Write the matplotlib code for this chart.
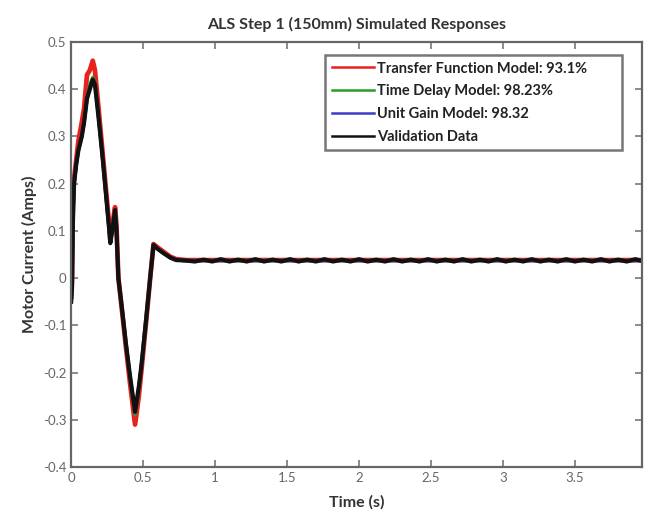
import matplotlib
matplotlib.use("Agg")
import matplotlib.pyplot as plt
import numpy as np

# Transient part of the response
t_tr = [0.0, 0.006, 0.012, 0.02, 0.035, 0.05, 0.074, 0.09, 0.11, 0.13, 0.15, 0.165,
        0.19, 0.22, 0.25, 0.265, 0.272, 0.28, 0.295, 0.305, 0.315, 0.328, 0.35, 0.38,
        0.41, 0.444, 0.47, 0.49, 0.52, 0.549, 0.572, 0.6, 0.64, 0.69, 0.73, 0.8]

val_data = [-0.05, -0.02, 0.12, 0.2, 0.24, 0.27, 0.30, 0.33, 0.38, 0.40, 0.42, 0.41,
            0.34, 0.25, 0.15, 0.10, 0.074, 0.09, 0.12, 0.144, 0.10, 0.0, -0.057, -0.138,
            -0.21, -0.283, -0.23, -0.18, -0.09, 0.0, 0.07, 0.062, 0.053, 0.043, 0.038, 0.037]

tf_model = [-0.04, 0.0, 0.16, 0.21, 0.25, 0.29, 0.33, 0.36, 0.43, 0.44, 0.46, 0.44,
            0.36, 0.26, 0.16, 0.11, 0.08, 0.10, 0.13, 0.15, 0.11, 0.0, -0.06, -0.145,
            -0.225, -0.31, -0.25, -0.19, -0.095, 0.0, 0.072, 0.065, 0.056, 0.045, 0.040, 0.038]

td_model = [-0.05, -0.02, 0.12, 0.2, 0.24, 0.27, 0.30, 0.33, 0.38, 0.41, 0.425, 0.415,
            0.345, 0.25, 0.15, 0.10, 0.075, 0.09, 0.12, 0.145, 0.10, 0.0, -0.057, -0.14,
            -0.215, -0.29, -0.235, -0.18, -0.09, 0.0, 0.07, 0.062, 0.053, 0.043, 0.038, 0.037]

ug_model = [-0.05, -0.02, 0.12, 0.2, 0.24, 0.27, 0.30, 0.33, 0.38, 0.405, 0.42, 0.41,
            0.34, 0.25, 0.15, 0.10, 0.074, 0.09, 0.12, 0.144, 0.10, 0.0, -0.057, -0.138,
            -0.21, -0.285, -0.23, -0.18, -0.09, 0.0, 0.07, 0.062, 0.053, 0.043, 0.038, 0.037]

# Steady state part (small periodic ripple on the validation data)
t_ss = [0.86, 0.92, 0.98, 1.04, 1.10, 1.16, 1.22, 1.28, 1.34, 1.40, 1.46, 1.52, 1.58,
        1.64, 1.70, 1.76, 1.82, 1.88, 1.94, 2.00, 2.06, 2.12, 2.18, 2.24, 2.30, 2.36,
        2.42, 2.48, 2.54, 2.60, 2.66, 2.72, 2.78, 2.84, 2.90, 2.96, 3.02, 3.08, 3.14,
        3.20, 3.26, 3.32, 3.38, 3.44, 3.50, 3.56, 3.62, 3.68, 3.74, 3.80, 3.86, 3.92, 3.98]
val_ss = [0.035, 0.039, 0.035, 0.040, 0.035, 0.039, 0.035, 0.040, 0.035, 0.039, 0.035,
          0.040, 0.035, 0.039, 0.035, 0.040, 0.035, 0.039, 0.035, 0.040, 0.035, 0.039,
          0.035, 0.040, 0.035, 0.039, 0.035, 0.040, 0.035, 0.039, 0.035, 0.040, 0.035,
          0.039, 0.035, 0.040, 0.035, 0.039, 0.035, 0.040, 0.035, 0.039, 0.035, 0.040,
          0.035, 0.039, 0.035, 0.040, 0.035, 0.039, 0.035, 0.040, 0.035]
model_ss = [0.038, 0.037, 0.037]

labels = ["Transfer Function Model: 93.1%", "Time Delay Model: 98.23%",
          "Unit Gain Model: 98.32", "Validation Data"]
colors = ["#e8211d", "#2a9d2a", "#3c3cc8", "#111111"]

t_all = np.array(t_tr + t_ss)
series = [tf_model + [model_ss[0]] * len(t_ss),
          td_model + [model_ss[1]] * len(t_ss),
          ug_model + [model_ss[2]] * len(t_ss),
          val_data + val_ss]

plt.rcParams['font.family'] = ['Lato', 'DejaVu Sans']

fig = plt.figure(figsize=(6.47, 5.23), dpi=100)
ax = fig.add_axes([0.11, 0.107, 0.882, 0.813])

widths = [3.4, 2.4, 2.4, 3.0]
for s, c, lab, w in zip(series, colors, labels, widths):
    ax.plot(t_all, s, color=c, lw=w, label=lab, solid_joinstyle='round')

ax.set_xlim(0, 3.965)
ax.set_ylim(-0.4, 0.5)
ax.set_xticks([0, 0.5, 1, 1.5, 2, 2.5, 3, 3.5])
ax.set_xticklabels(["0", "0.5", "1", "1.5", "2", "2.5", "3", "3.5"])
ax.set_yticks([-0.4, -0.3, -0.2, -0.1, 0, 0.1, 0.2, 0.3, 0.4, 0.5])
ax.set_yticklabels(["-0.4", "-0.3", "-0.2", "-0.1", "0", "0.1", "0.2", "0.3", "0.4", "0.5"])
ax.tick_params(direction='in', top=True, right=True, length=5, width=1.2,
               colors='#777777', labelsize=9.5, labelcolor='#666666')
for sp in ax.spines.values():
    sp.set_color('#666666')
    sp.set_linewidth(1.6)

ax.set_title("ALS Step 1 (150mm) Simulated Responses", fontsize=11.5,
             fontweight='bold', color='#333333', pad=9)
ax.set_xlabel("Time (s)", fontsize=11.5, fontweight='bold', color='#333333', labelpad=8)
ax.set_ylabel("Motor Current (Amps)", fontsize=11.5, fontweight='bold', color='#333333', labelpad=4)

leg = ax.legend(loc='upper left', bbox_to_anchor=(0.445, 0.753, 0.52, 0.216), mode='expand',
                borderaxespad=0, fancybox=False, frameon=True, handlelength=2.9,
                handletextpad=0.2, labelspacing=0.6, borderpad=0.45,
                prop={'family': ['Lato', 'DejaVu Sans'], 'weight': 'bold', 'size': 10.5})
leg.get_frame().set_edgecolor('#555555')
leg.get_frame().set_linewidth(1.8)
for h in leg.get_lines():
    h.set_linewidth(1.8)
for txt in leg.get_texts():
    txt.set_color('#222222')

fig.savefig("out.png", dpi=100)
